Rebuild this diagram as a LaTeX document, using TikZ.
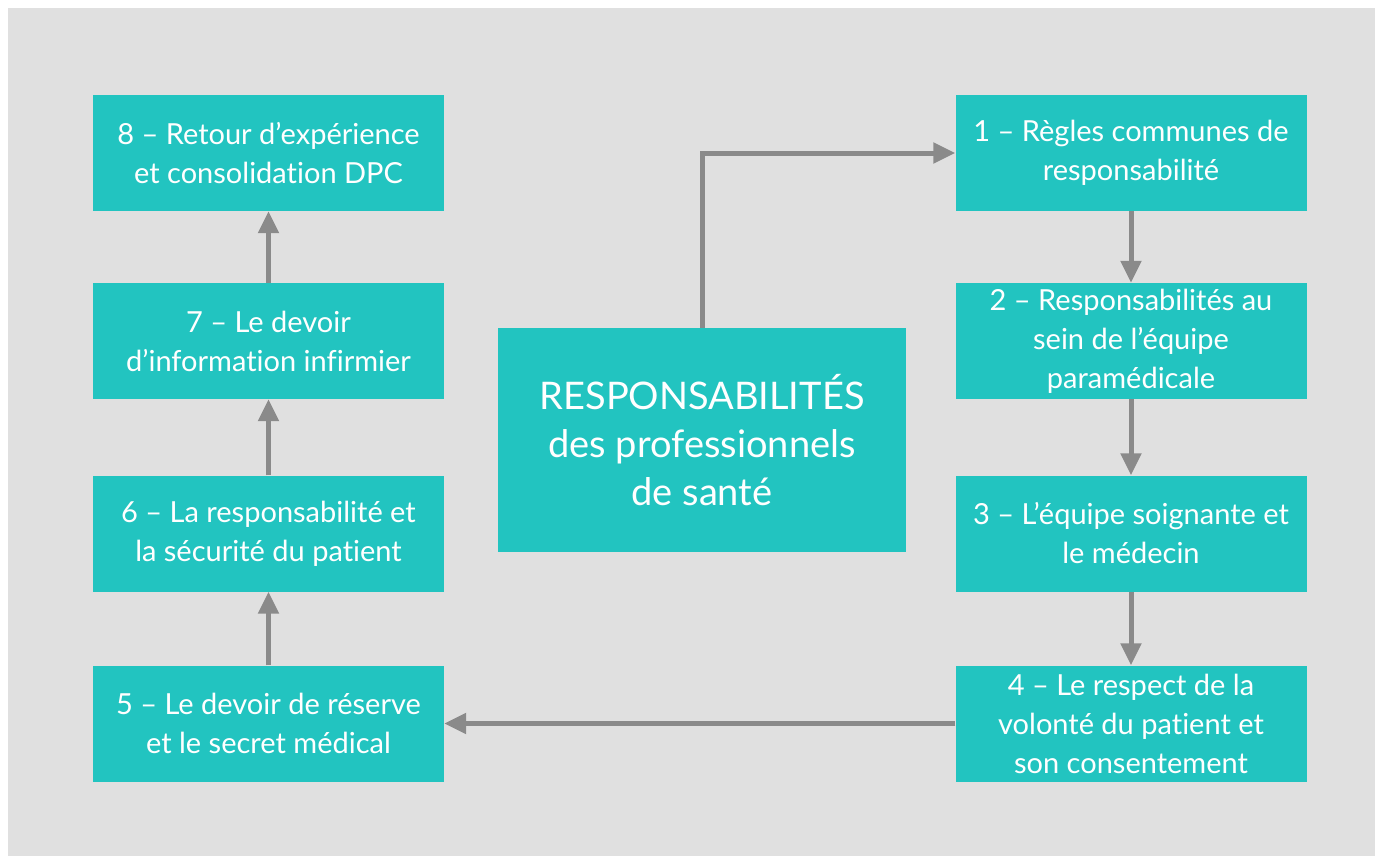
\documentclass[tikz,border=0pt]{standalone}
\usepackage{fontspec}
\setmainfont{Lato}[Ligatures=NoCommon]
\usetikzlibrary{arrows.meta}
\definecolor{bg}{HTML}{E0E0E0}
\definecolor{teal}{HTML}{22C4C0}
\definecolor{arr}{HTML}{8A8A8A}
\tikzset{
  box/.style={fill=teal, draw=none, text=white, align=center, minimum width=351pt, minimum height=116pt, inner sep=0pt, font=\fontsize{29}{39}\selectfont},
  bigbox/.style={fill=teal, draw=none, text=white, align=center, minimum width=408pt, minimum height=224pt, inner sep=0pt, font=\fontsize{38}{48}\selectfont},
  link/.style={draw=arr, line width=5pt, -{Triangle[length=22pt,width=20pt]}}
}
\begin{document}
\begin{tikzpicture}[x=1pt,y=-1pt]
\useasboundingbox (0,0) rectangle (1375,856);
\fill[white] (0,0) rectangle (1375,856);
\fill[bg] (8,8) rectangle (1375,856);
\node[box] (b8) at (268.5,153) {8 – Retour d’expérience\\et consolidation DPC};
\node[box] (b7) at (268.5,341) {7 – Le devoir\\d’information infirmier};
\node[box] (b6) at (268.5,533.5) {6 – La responsabilité et\\la sécurité du patient};
\node[box] (b5) at (268.5,723.5) {5 – Le devoir de réserve\\et le secret médical};
\node[box] (b1) at (1131,153) {1 – Règles communes de\\responsabilité};
\node[box] (b2) at (1131,341) {2 – Responsabilités au\\sein de l’équipe\\paramédicale};
\node[box] (b3) at (1131,533.5) {3 – L’équipe soignante et\\le médecin};
\node[box] (b4) at (1131,723.5) {4 – Le respect de la\\volonté du patient et\\son consentement};
\node[bigbox] (c) at (702,440) {RESPONSABILITÉS\\des professionnels\\de santé};
\draw[link] (c.north) |- (b1.west);
\draw[link] (b1) -- (b2);
\draw[link] (b2) -- (b3);
\draw[link] (b3) -- (b4);
\draw[link] (b4) -- (b5);
\draw[link] (b5) -- (b6);
\draw[link] (b6) -- (b7);
\draw[link] (b7) -- (b8);
\end{tikzpicture}
\end{document}
